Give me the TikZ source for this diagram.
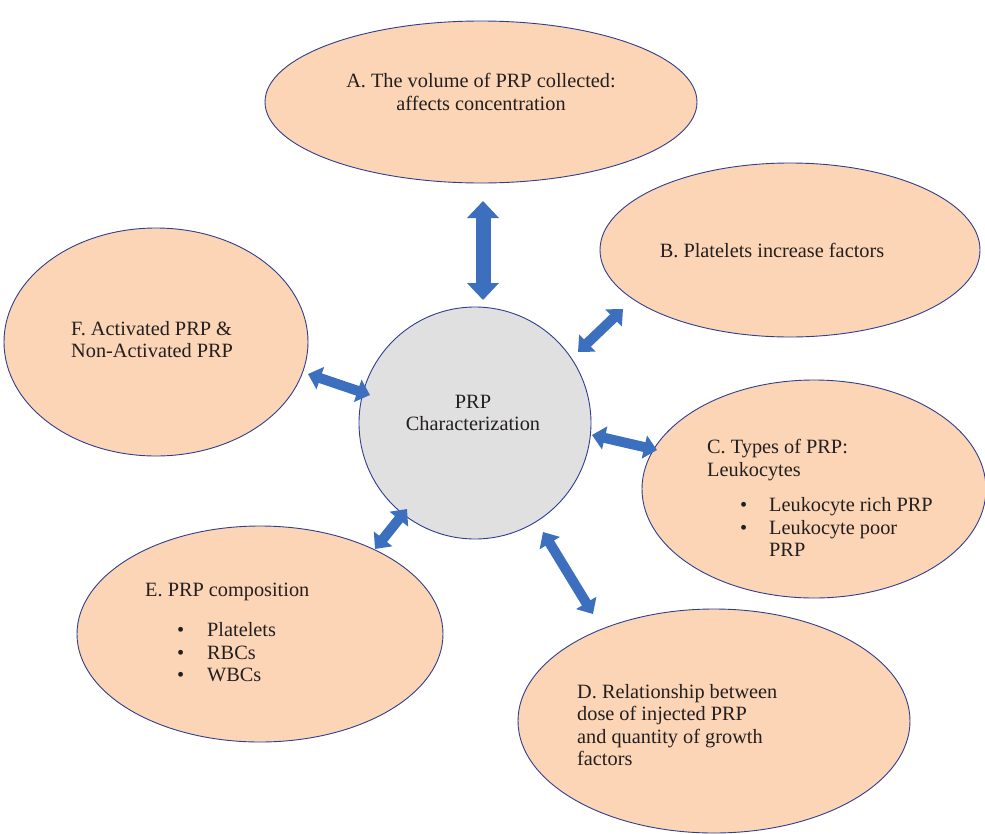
\documentclass[tikz,border=0pt]{standalone}
\usepackage{fontspec}
\setmainfont{Liberation Serif}
\usetikzlibrary{shapes.geometric,arrows.meta}
\definecolor{peach}{HTML}{FBD5B5}
\definecolor{edgeblue}{HTML}{2F3E8E}
\definecolor{arrblue}{HTML}{3C6FBD}
\definecolor{circgray}{HTML}{E0E0E0}
\definecolor{ink}{HTML}{231F20}
\tikzset{
  bubble/.style={ellipse, draw=edgeblue, line width=0.9pt, fill=peach, inner sep=0pt},
  hub/.style={circle, draw=edgeblue, line width=0.9pt, fill=circgray, inner sep=0pt},
  txt/.style={font=\fontsize{20.3}{22.5}\selectfont, inner sep=0pt, text=ink},
  arr/.style={draw=arrblue, line width=10pt, {Triangle[width=23pt,length=13pt]}-{Triangle[width=23pt,length=13pt]}},
  bigarr/.style={draw=arrblue, line width=15pt, {Triangle[width=31pt,length=17pt]}-{Triangle[width=31pt,length=17pt]}},
}
\begin{document}
\begin{tikzpicture}[x=1pt,y=-1pt]
\useasboundingbox (0,0) rectangle (985,833);
% ellipses
\node[bubble, minimum width=432pt, minimum height=162pt] (A) at (481,102) {};
\node[bubble, minimum width=380pt, minimum height=174pt] (B) at (790,250) {};
\node[bubble, minimum width=304pt, minimum height=228pt] (F) at (156,342) {};
\node[bubble, minimum width=344pt, minimum height=218pt] (C) at (814,489) {};
\node[bubble, minimum width=366pt, minimum height=216pt] (E) at (260,634) {};
\node[bubble, minimum width=392pt, minimum height=224pt] (D) at (714,721) {};
\node[hub, minimum size=232pt] (P) at (475,423) {};
% texts
\node[txt, align=center] (tA) at (481,92) {A. The volume of PRP collected:\\affects concentration};
\node[txt] (tB) at (772,250) {B. Platelets increase factors};
\node[txt, align=left, anchor=north west] (tF) at (71,321) {F. Activated PRP \&\\Non-Activated PRP};
\node[txt, align=center] (tP) at (473,413) {PRP\\Characterization};
\node[txt, align=left, anchor=north west] (tC) at (707,439) {C. Types of PRP:\\Leukocytes};
\node[txt, anchor=north west] (tCl) at (740,496) {\begin{tabular}{@{}p{29pt}@{}l@{}}\textbullet & Leukocyte rich PRP\\ \textbullet & Leukocyte poor\\ & PRP\end{tabular}};
\node[txt, anchor=north west] (tE) at (145,583) {E. PRP composition};
\node[txt, anchor=north west] (tEl) at (177,621) {\begin{tabular}{@{}p{30pt}@{}l@{}}\textbullet & Platelets\\ \textbullet & RBCs\\ \textbullet & WBCs\end{tabular}};
\node[txt, align=left, anchor=north west] (tD) at (577,684) {D. Relationship between\\dose of injected PRP\\and quantity of growth\\factors};
% arrow end points
\coordinate (a1) at (483,201); \coordinate (a2) at (483,300);
\coordinate (b1) at (578,352); \coordinate (b2) at (623,309);
\coordinate (f1) at (308,374); \coordinate (f2) at (370,395);
\coordinate (c1) at (592,435); \coordinate (c2) at (657,450);
\coordinate (e1) at (375,549); \coordinate (e2) at (407,509);
\coordinate (d1) at (543,532); \coordinate (d2) at (593,614);
\draw[bigarr] (a1) -- (a2);
\draw[arr] (b1) -- (b2);
\draw[arr] (f1) -- (f2);
\draw[arr] (c1) -- (c2);
\draw[arr] (e1) -- (e2);
\draw[arr] (d1) -- (d2);
\end{tikzpicture}
\end{document}
